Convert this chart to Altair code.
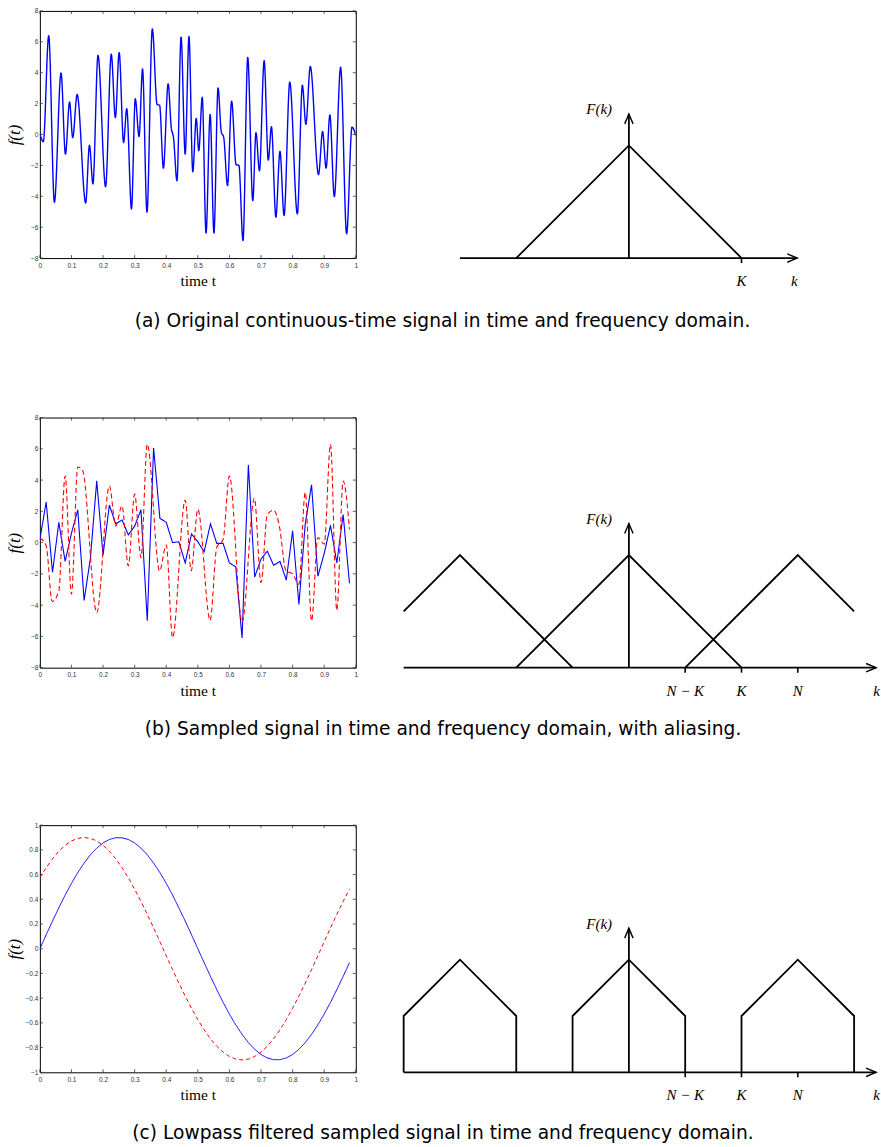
import altair as alt
import pandas as pd

# ---------------- (a) original continuous-time signal (shape points) ----------------
sig_t = [0.0, 0.011, 0.028, 0.046, 0.067, 0.081, 0.094, 0.104, 0.118, 0.145, 0.157, 0.168,
         0.184, 0.208, 0.226, 0.239, 0.251, 0.265, 0.275, 0.290, 0.302, 0.314, 0.325, 0.339,
         0.356, 0.371, 0.379, 0.391, 0.406, 0.416, 0.423, 0.434, 0.447, 0.460, 0.472, 0.484,
         0.495, 0.503, 0.514, 0.526, 0.539, 0.551, 0.564, 0.574, 0.582, 0.594, 0.607, 0.621,
         0.630, 0.643, 0.658, 0.674, 0.684, 0.695, 0.710, 0.723, 0.733, 0.747, 0.760, 0.773,
         0.791, 0.815, 0.831, 0.842, 0.856, 0.882, 0.895, 0.906, 0.918, 0.932, 0.952, 0.971,
         0.988, 1.0]
sig_f = [0.05, -0.46, 6.4, -4.39, 3.98, -1.27, 2.1, -0.2, 2.59, -4.43, -0.7, -3.2,
         5.12, -3.38, 5.2, 1.09, 5.3, -0.52, 1.67, -4.82, 2.31, -0.13, 4.24, -5.03,
         6.84, 1.94, 1.9, -2.18, 3.28, 0.44, -0.2, -3.0, 6.3, -1.27, 6.34, -2.41,
         1.04, -1.06, 2.41, -6.38, 1.3, -6.38, 3.02, 0.2, -0.2, -3.31, 2.16, -1.95,
         -2.0, -6.86, 4.99, -4.28, 0.12, -2.35, 4.78, -1.66, 0.5, -5.35, -1.1, -5.25,
         3.38, -5.14, 3.19, 0.66, 4.41, -2.6, 0.19, -2.18, 1.26, -4.02, 4.35, -6.43,
         0.48, -0.05]

# ---------------- (b) sampled signal (blue) and aliased signal (red dashed) ----------------
samp_t = [0.0, 0.02, 0.04, 0.06, 0.08, 0.10, 0.12, 0.14, 0.16, 0.18, 0.20, 0.22, 0.24, 0.26,
          0.28, 0.30, 0.32, 0.34, 0.36, 0.38, 0.40, 0.42, 0.44, 0.46, 0.48, 0.50, 0.52, 0.54,
          0.56, 0.58, 0.60, 0.62, 0.64, 0.66, 0.68, 0.70, 0.72, 0.74, 0.76, 0.78, 0.80, 0.82,
          0.84, 0.86, 0.88, 0.90, 0.92, 0.94, 0.96, 0.98]
samp_f = [0.2, 2.6, -1.9, 1.3, -1.2, 0.6, 2.1, -3.7, -1.0, 3.95, -0.8, 2.4, 1.2, 1.45,
          0.5, 1.05, 2.1, -5.0, 6.05, 1.55, 1.3, 0.0, 0.05, -1.3, 0.55, 0.05, -0.58, 1.2,
          -0.05, -0.05, -1.3, -1.55, -6.1, 4.97, -2.2, -1.05, -0.55, -1.45, -1.2, -2.4, 0.75, -3.95,
          1.2, 3.7, -2.15, -0.7, 1.1, -1.3, 1.8, -2.6]
alias_t = [0.0, 0.02, 0.039, 0.06, 0.08, 0.10, 0.12, 0.135, 0.18, 0.22, 0.24, 0.26, 0.28,
           0.30, 0.32, 0.34, 0.379, 0.40, 0.42, 0.46, 0.479, 0.50, 0.539, 0.56, 0.58, 0.60,
           0.64, 0.679, 0.70, 0.72, 0.74, 0.758, 0.779, 0.80, 0.82, 0.84, 0.86, 0.88, 0.90,
           0.92, 0.94, 0.96, 0.98]
alias_f = [0.3, -0.2, -3.77, -3.1, 4.26, -3.3, 4.84, 4.63, -4.48, 3.62, 1.07, 2.35, -1.5,
           3.1, -0.96, 6.29, -1.81, -0.15, -6.08, 2.73, -1.8, 2.13, -4.97, -0.3, 0.2, 4.26,
           -5.1, 2.84, -2.56, 1.8, 2.07, 1.07, -1.81, -2.0, -2.67, 3.2, -5.0, 0.32, -0.1,
           6.29, -4.33, 3.94, 0.85]

# ---------------- (c) lowpass filtered signals ----------------
low_blue = [0.0, 0.113, 0.224, 0.331, 0.434, 0.529, 0.616, 0.693, 0.760, 0.814,
            0.856, 0.884, 0.898, 0.898, 0.884, 0.856, 0.814, 0.760, 0.693, 0.616,
            0.529, 0.434, 0.331, 0.224, 0.113, 0.0, -0.113, -0.224, -0.331, -0.434,
            -0.529, -0.616, -0.693, -0.760, -0.814, -0.856, -0.884, -0.898, -0.898, -0.884,
            -0.856, -0.814, -0.760, -0.693, -0.616, -0.529, -0.434, -0.331, -0.224, -0.113]
low_red = [0.574, 0.656, 0.728, 0.789, 0.837, 0.872, 0.893, 0.900, 0.893, 0.872,
           0.837, 0.789, 0.728, 0.656, 0.574, 0.482, 0.383, 0.278, 0.169, 0.057,
           -0.057, -0.169, -0.278, -0.383, -0.482, -0.574, -0.656, -0.728, -0.789, -0.837,
           -0.872, -0.893, -0.900, -0.893, -0.872, -0.837, -0.789, -0.728, -0.656, -0.574,
           -0.482, -0.383, -0.278, -0.169, -0.057, 0.057, 0.169, 0.278, 0.383, 0.482]

# ---------------- tick values ----------------
x_ticks = [0, 0.1, 0.2, 0.3, 0.4, 0.5, 0.6, 0.7, 0.8, 0.9, 1]
y_ticks_big = [-8, -6, -4, -2, 0, 2, 4, 6, 8]
y_ticks_small = [-1, -0.8, -0.6, -0.4, -0.2, 0, 0.2, 0.4, 0.6, 0.8, 1]

# ---------------- spectrum sketches (k in units of K, F normalised) ----------------
tri_mid_k = [-1.0, 0.0, 1.0]
tri_mid_F = [0.0, 1.0, 0.0]
tri_left_k = [-2.0, -1.5, -0.5]
tri_left_F = [0.5, 1.0, 0.0]
tri_right_k = [0.5, 1.5, 2.0]
tri_right_F = [0.0, 1.0, 0.5]
pent_left_k = [-2.0, -2.0, -1.5, -1.0, -1.0]
pent_mid_k = [-0.5, -0.5, 0.0, 0.5, 0.5]
pent_right_k = [1.0, 1.0, 1.5, 2.0, 2.0]
pent_F = [0.0, 0.5, 1.0, 0.5, 0.0]
axis_a_k = [-1.5, 1.495]
axis_bc_k = [-2.0, 2.195]
v_axis_top = 1.28
labels_a_k = [1.0, 1.47]
labels_a_txt = ["K", "k"]
labels_bc_k = [0.5, 1.0, 1.5, 2.2]
labels_bc_txt = ["N \u2212 K", "K", "N", "k"]
ticks_a = [1.0]
ticks_bc = [0.5, 1.0, 1.5]

captions = [
    "(a) Original continuous-time signal in time and frequency domain.",
    "(b) Sampled signal in time and frequency domain, with aliasing.",
    "(c) Lowpass filtered sampled signal in time and frequency domain.",
]

SERIF = "Liberation Serif"
SANS = "Liberation Sans"
W_L = 317
W_R = 478
KMIN, KMAX = -2.009, 2.221
PX_PER_K = 113.0
BLUE = "#0000ff"
RED = "#ff0000"


def left_panel(lines, ydom, yvals, H):
    xs = alt.Scale(domain=[0, 1], nice=False, zero=False)
    ys = alt.Scale(domain=ydom, nice=False, zero=False)
    xaxis = alt.Axis(values=x_ticks, format="~g", labelFont=SANS, labelFontSize=6.5,
                     labelColor="#333333", ticks=False, domain=False, grid=False,
                     labelPadding=4, labelFlush=False, title="time t", titleFont=SERIF,
                     titleFontSize=15.5, titleFontWeight="normal", titleColor="black",
                     titlePadding=5)
    yaxis = alt.Axis(values=yvals, format="~g", labelFont=SANS, labelFontSize=6.5,
                     labelColor="#333333", ticks=False, domain=False, grid=False,
                     labelPadding=2, minExtent=14, maxExtent=14, title="f(t)",
                     titleFont=SERIF, titleFontStyle="italic", titleFontSize=17,
                     titleFontWeight="normal", titleColor="black", titlePadding=2)
    X = alt.X("t:Q", scale=xs, axis=xaxis)
    Y = alt.Y("f:Q", scale=ys, axis=yaxis)
    XV = alt.X("v:Q", scale=xs, axis=xaxis)
    YV = alt.Y("v:Q", scale=ys, axis=yaxis)
    layers = []
    for df, color, dash, width, interp in lines:
        m = alt.Chart(df).mark_line(color=color, strokeWidth=width, interpolate=interp,
                                    strokeDash=dash, clip=True)
        layers.append(m.encode(x=X, y=Y))
    xt = pd.DataFrame({"v": x_ticks})
    yt = pd.DataFrame({"v": yvals})
    tick_style = dict(color="#333333", strokeWidth=0.8)
    layers.append(alt.Chart(xt).mark_rule(**tick_style).encode(
        x=XV, y=alt.value(H), y2=alt.value(H - 3)))
    layers.append(alt.Chart(xt).mark_rule(**tick_style).encode(
        x=XV, y=alt.value(0), y2=alt.value(3)))
    layers.append(alt.Chart(yt).mark_rule(**tick_style).encode(
        y=YV, x=alt.value(0), x2=alt.value(3)))
    layers.append(alt.Chart(yt).mark_rule(**tick_style).encode(
        y=YV, x=alt.value(W_L - 3), x2=alt.value(W_L)))
    return alt.layer(*layers).properties(width=W_L, height=H)


def right_panel(shapes, axis_k, ticks, lab_k, lab_txt, H):
    xs = alt.Scale(domain=[KMIN, KMAX], nice=False, zero=False)
    ys = alt.Scale(domain=[0, H / PX_PER_K], nice=False, zero=False)
    X = alt.X("k:Q", scale=xs, axis=None)
    Y = alt.Y("F:Q", scale=ys, axis=None)
    rows = []
    for name, ks, fs in shapes:
        for i, (k, f) in enumerate(zip(ks, fs)):
            rows.append({"seg": name, "i": i, "k": k, "F": f})
    rows += [{"seg": "haxis", "i": 0, "k": axis_k[0], "F": 0.0},
             {"seg": "haxis", "i": 1, "k": axis_k[1], "F": 0.0},
             {"seg": "vaxis", "i": 0, "k": 0.0, "F": 0.0},
             {"seg": "vaxis", "i": 1, "k": 0.0, "F": v_axis_top}]
    df = pd.DataFrame(rows)
    lines = alt.Chart(df).mark_line(color="black", strokeWidth=1.8).encode(
        x=X, y=Y, detail="seg:N", order="i:Q")
    arrow_r = alt.Chart(pd.DataFrame({"k": [axis_k[1]], "F": [0.0]})).mark_point(
        shape="M -1 -0.42 L 0 0 L -1 0.42", filled=False, size=400, strokeWidth=1.4,
        color="black", opacity=1).encode(x=X, y=Y)
    arrow_u = alt.Chart(pd.DataFrame({"k": [0.0], "F": [v_axis_top]})).mark_point(
        shape="M -0.42 1 L 0 0 L 0.42 1", filled=False, size=400, strokeWidth=1.4,
        color="black", opacity=1).encode(x=X, y=Y)
    tks = alt.Chart(pd.DataFrame({"k": ticks})).mark_rule(color="black", strokeWidth=1.6).encode(
        x=X, y=alt.value(H), y2=alt.value(H + 5))
    labs = alt.Chart(pd.DataFrame({"k": lab_k, "F": [0.0] * len(lab_k), "txt": lab_txt})).mark_text(
        font=SERIF, fontStyle="italic", fontSize=15, dy=23, color="black").encode(
        x=X, y=Y, text="txt:N")
    fk = alt.Chart(pd.DataFrame({"k": [-0.15], "F": [1.32], "txt": ["F(k)"]})).mark_text(
        font=SERIF, fontStyle="italic", fontSize=15, align="right", baseline="middle",
        color="black").encode(x=X, y=Y, text="txt:N")
    return alt.layer(lines, arrow_r, arrow_u, tks, labs, fk).properties(
        width=W_R, height=H, view=alt.ViewBackground(stroke="transparent"))


def caption(text, offset):
    return alt.TitleParams(text=text, orient="bottom", anchor="middle", font="DejaVu Sans",
                           fontSize=18.7, fontWeight="normal", color="black", offset=offset)


# row (a)
H1, H2, H3 = 248, 251, 248
df_a = pd.DataFrame({"t": sig_t, "f": sig_f})
left_a = left_panel([(df_a, BLUE, [1, 0], 1.4, "monotone")], [-8, 8], y_ticks_big, H1)
right_a = right_panel([("mid", tri_mid_k, tri_mid_F)], axis_a_k, ticks_a,
                      labels_a_k, labels_a_txt, H1)
row_a = alt.hconcat(left_a, right_a, spacing=47, bounds="flush",
                    title=caption(captions[0], 23))

# row (b)
df_b_blue = pd.DataFrame({"t": samp_t, "f": samp_f})
df_b_red = pd.DataFrame({"t": alias_t, "f": alias_f})
left_b = left_panel([(df_b_blue, BLUE, [1, 0], 1.1, "linear"),
                     (df_b_red, RED, [5, 3], 1.1, "monotone")], [-8, 8], y_ticks_big, H2)
right_b = right_panel([("left", tri_left_k, tri_left_F), ("mid", tri_mid_k, tri_mid_F),
                       ("right", tri_right_k, tri_right_F)], axis_bc_k, ticks_bc,
                      labels_bc_k, labels_bc_txt, H2)
row_b = alt.hconcat(left_b, right_b, spacing=47, bounds="flush",
                    title=caption(captions[1], 21))

# row (c)
df_c_blue = pd.DataFrame({"t": samp_t, "f": low_blue})
df_c_red = pd.DataFrame({"t": samp_t, "f": low_red})
left_c = left_panel([(df_c_blue, BLUE, [1, 0], 1.0, "linear"),
                     (df_c_red, RED, [4, 3], 1.0, "linear")], [-1, 1], y_ticks_small, H3)
right_c = right_panel([("left", pent_left_k, pent_F), ("mid", pent_mid_k, pent_F),
                       ("right", pent_right_k, pent_F)], axis_bc_k, ticks_bc,
                      labels_bc_k, labels_bc_txt, H3)
row_c = alt.hconcat(left_c, right_c, spacing=47, bounds="flush",
                    title=caption(captions[2], 20))

chart = alt.vconcat(row_a, row_b, row_c, spacing=82).properties(
    padding={"left": 5, "top": 5, "right": 0, "bottom": 3},
    background="white",
).configure_view(stroke="black", strokeWidth=1)

chart.save("out.html", embed_options={"renderer": "svg", "actions": False})
